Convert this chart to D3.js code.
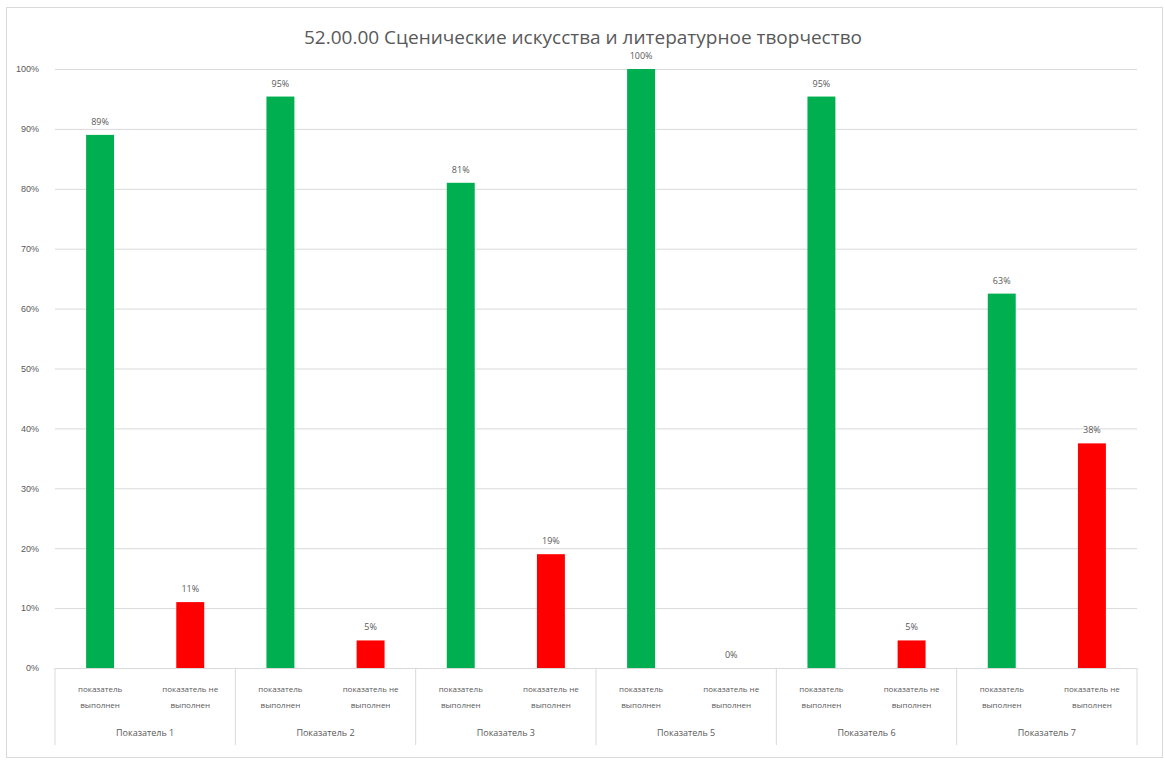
<!DOCTYPE html>
<html><head><meta charset="utf-8">
<script src="https://cdn.jsdelivr.net/npm/d3@7"></script>
<style>
html,body{margin:0;padding:0;background:#fff;}
svg{display:block;font-family:"Open Sans","Liberation Sans",sans-serif;}
</style></head>
<body><svg id="chart" width="1165" height="760"></svg>
<script>
const title = "52.00.00 Сценические искусства и литературное творчество";
const groups = ["Показатель 1","Показатель 2","Показатель 3","Показатель 5","Показатель 6","Показатель 7"];
const subCategories = ["показатель выполнен","показатель не выполнен"];
const doneValues = [0.89, 0.954, 0.81, 1.0, 0.954, 0.625];
const notDoneValues = [0.11, 0.046, 0.19, 0, 0.046, 0.375];
const yTicks = [0,0.1,0.2,0.3,0.4,0.5,0.6,0.7,0.8,0.9,1.0];
const colors = ["#00b050","#ff0000"];

const svg = d3.select("#chart");
const m = {left:55, right:1137, top:69, bottom:668};

svg.append("rect").attr("x",6.5).attr("y",7.5).attr("width",1156).attr("height",750)
  .attr("fill","#fff").attr("stroke","#d9d9d9");

const x0 = d3.scaleBand().domain(groups).range([m.left,m.right]).padding(0);
const x1 = d3.scaleBand().domain(subCategories).range([0,x0.bandwidth()]).paddingInner(0.69).paddingOuter(0.345);
const y = d3.scaleLinear().domain([0,1]).range([m.bottom,m.top]);

// grid + y labels
const yAxis = d3.axisLeft(y).tickValues(yTicks).tickFormat(d3.format(".0%")).tickSize(-(m.right-m.left)).tickPadding(16);
const gy = svg.append("g").attr("transform",`translate(${m.left},0)`).call(yAxis);
gy.select(".domain").remove();
gy.selectAll(".tick line").attr("stroke","#d9d9d9").attr("stroke-width",1);
gy.selectAll(".tick text").attr("fill","#595959").attr("font-size",9);

// title
svg.append("text").attr("x",583).attr("y",44).attr("text-anchor","middle")
  .attr("fill","#595959").attr("font-size",19).text(title);

const data = groups.map((g,i)=>({group:g, vals:[
  {k:subCategories[0], v:doneValues[i]},
  {k:subCategories[1], v:notDoneValues[i]}]}));

const gg = svg.append("g").selectAll("g").data(data).join("g")
  .attr("transform",d=>`translate(${x0(d.group)},0)`);

gg.selectAll("rect").data(d=>d.vals).join("rect")
  .attr("x",d=>x1(d.k)).attr("width",x1.bandwidth())
  .attr("y",d=>y(d.v)).attr("height",d=>y(0)-y(d.v))
  .attr("fill",(d,i)=>colors[i]);

gg.selectAll("text.val").data(d=>d.vals).join("text").attr("class","val")
  .attr("x",d=>x1(d.k)+x1.bandwidth()/2).attr("y",d=>y(d.v)-10)
  .attr("text-anchor","middle").attr("fill","#595959").attr("font-size",9)
  .text(d=>d3.format(".0%")(d.v));

// sub-category labels (two lines)
const subLines = {"показатель выполнен":["показатель","выполнен"],"показатель не выполнен":["показатель не","выполнен"]};
gg.selectAll("text.sub").data(d=>d.vals).join("text").attr("class","sub")
  .attr("x",d=>x1(d.k)+x1.bandwidth()/2).attr("y",692)
  .attr("text-anchor","middle").attr("fill","#595959").attr("font-size",8)
  .selectAll("tspan").data(d=>subLines[d.k]).join("tspan")
  .attr("x",function(){return this.parentNode.getAttribute("x");})
  .attr("dy",(d,i)=>i===0?0:16).text(d=>d);

// group labels
gg.append("text").attr("x",x0.bandwidth()/2).attr("y",736).attr("text-anchor","middle")
  .attr("fill","#595959").attr("font-size",9).text(d=>d.group);

// separators
const bounds = groups.map(g=>x0(g)).concat([m.right]);
svg.append("g").selectAll("line").data(bounds).join("line")
  .attr("x1",d=>d).attr("x2",d=>d).attr("y1",m.bottom).attr("y2",745)
  .attr("stroke","#d9d9d9");
</script></body></html>
